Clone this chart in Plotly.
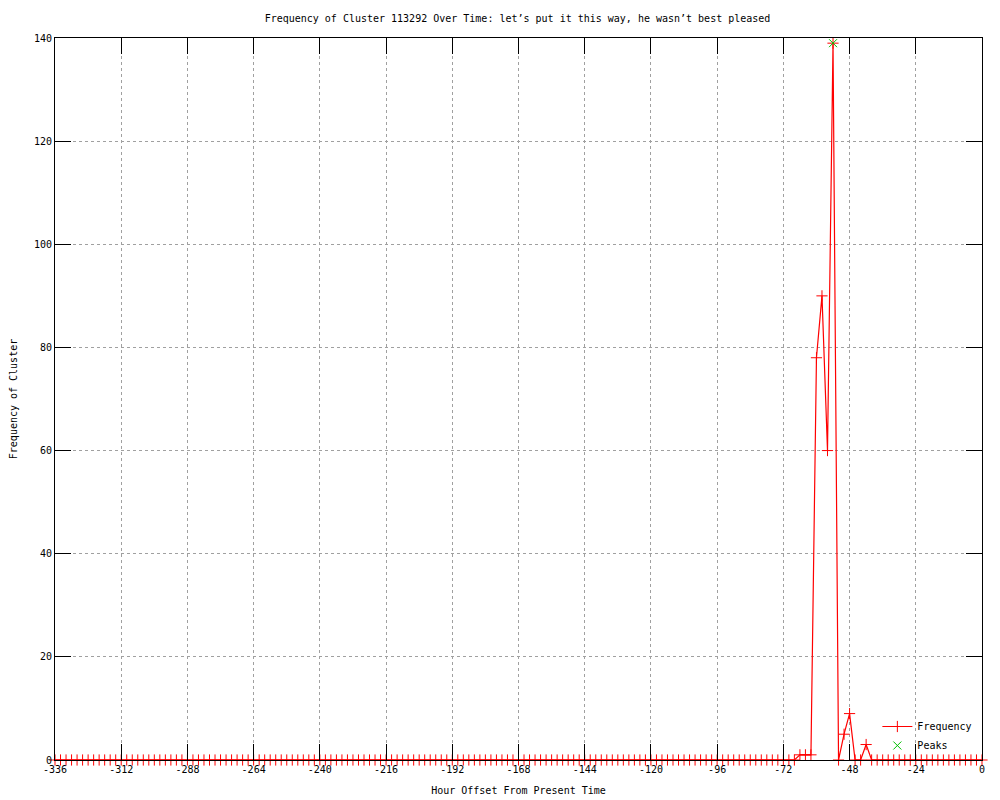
import plotly.graph_objects as go

# Hour offsets (every 2 hours from -336 to 0)
hours = list(range(-336, 1, 2))

# Frequency of cluster at each hour offset
freq = [
    0, 0, 0, 0, 0, 0, 0, 0, 0, 0, 0, 0, 0, 0, 0, 0, 0, 0, 0, 0,
    0, 0, 0, 0, 0, 0, 0, 0, 0, 0, 0, 0, 0, 0, 0, 0, 0, 0, 0, 0,
    0, 0, 0, 0, 0, 0, 0, 0, 0, 0, 0, 0, 0, 0, 0, 0, 0, 0, 0, 0,
    0, 0, 0, 0, 0, 0, 0, 0, 0, 0, 0, 0, 0, 0, 0, 0, 0, 0, 0, 0,
    0, 0, 0, 0, 0, 0, 0, 0, 0, 0, 0, 0, 0, 0, 0, 0, 0, 0, 0, 0,
    0, 0, 0, 0, 0, 0, 0, 0, 0, 0, 0, 0, 0, 0, 0, 0, 0, 0, 0, 0,
    0, 0, 0, 0, 0, 0, 0, 0, 0, 0, 0, 0, 0, 0, 0,
    1, 1, 1, 78, 90, 60, 139, 0, 5, 9, 0, 0, 3,
    0, 0, 0, 0, 0, 0, 0, 0, 0, 0, 0, 0, 0, 0, 0, 0, 0, 0, 0, 0, 0,
]

peak_hours = [-54]
peak_values = [139]

x_tick_vals = [-336, -312, -288, -264, -240, -216, -192, -168, -144, -120, -96, -72, -48, -24, 0]
x_tick_text = ["-336", "-312", "-288", "-264", "-240", "-216", "-192", "-168", "-144", "-120", "-96", "-72", "-48", "-24", "0"]
y_tick_vals = [0, 20, 40, 60, 80, 100, 120, 140]

title_text = "Frequency of Cluster 113292 Over Time: let\u2019s put it this way, he wasn\u2019t best pleased"

FONT = "DejaVu Sans Mono"
W, H = 992, 792  # page body has an 8px margin

fig = go.Figure()
fig.add_trace(go.Scatter(
    x=hours, y=freq, mode="lines+markers", name="Frequency",
    line=dict(color="#ff0000", width=1.2),
    marker=dict(symbol="cross-thin", size=8, line=dict(color="#ff0000", width=1)),
    cliponaxis=False,
))
fig.add_trace(go.Scatter(
    x=peak_hours, y=peak_values, mode="markers", name="Peaks",
    marker=dict(symbol="x-thin", size=8, line=dict(color="#00c000", width=1)),
    cliponaxis=False,
))

axis_common = dict(
    showline=True, linecolor="black", linewidth=1, mirror="ticks",
    ticks="inside", ticklen=16, tickcolor="black", tickwidth=1,
    showgrid=True, gridcolor="#a0a0a0", griddash="dot", gridwidth=1,
    zeroline=False, layer="above traces",
    tickfont=dict(family=FONT, size=10, color="black"),
)

fig.update_layout(
    width=W, height=H,
    margin=dict(l=47, r=18, t=30, b=40),
    paper_bgcolor="white", plot_bgcolor="white",
    title=dict(text=title_text, x=509.5 / W, xanchor="center", xref="container",
               y=1 - 10 / H, yanchor="middle", yref="container",
               font=dict(family=FONT, size=10, color="black")),
    xaxis=dict(range=[-336, 0], tickvals=x_tick_vals, ticktext=x_tick_text,
               title=dict(text="Hour Offset From Present Time", standoff=12,
                          font=dict(family=FONT, size=10, color="black")),
               automargin=False, **axis_common),
    yaxis=dict(range=[0, 140], tickvals=y_tick_vals,
               title=dict(text="Frequency of Cluster", standoff=15,
                          font=dict(family=FONT, size=10, color="black")),
               automargin=False, **axis_common),
    legend=dict(x=0.995, y=0.0, xanchor="right", yanchor="bottom",
                bgcolor="rgba(0,0,0,0)", borderwidth=0,
                font=dict(family=FONT, size=10, color="black"),
                tracegroupgap=0, itemwidth=30),
    showlegend=True,
)

fig.write_html("out.html")
